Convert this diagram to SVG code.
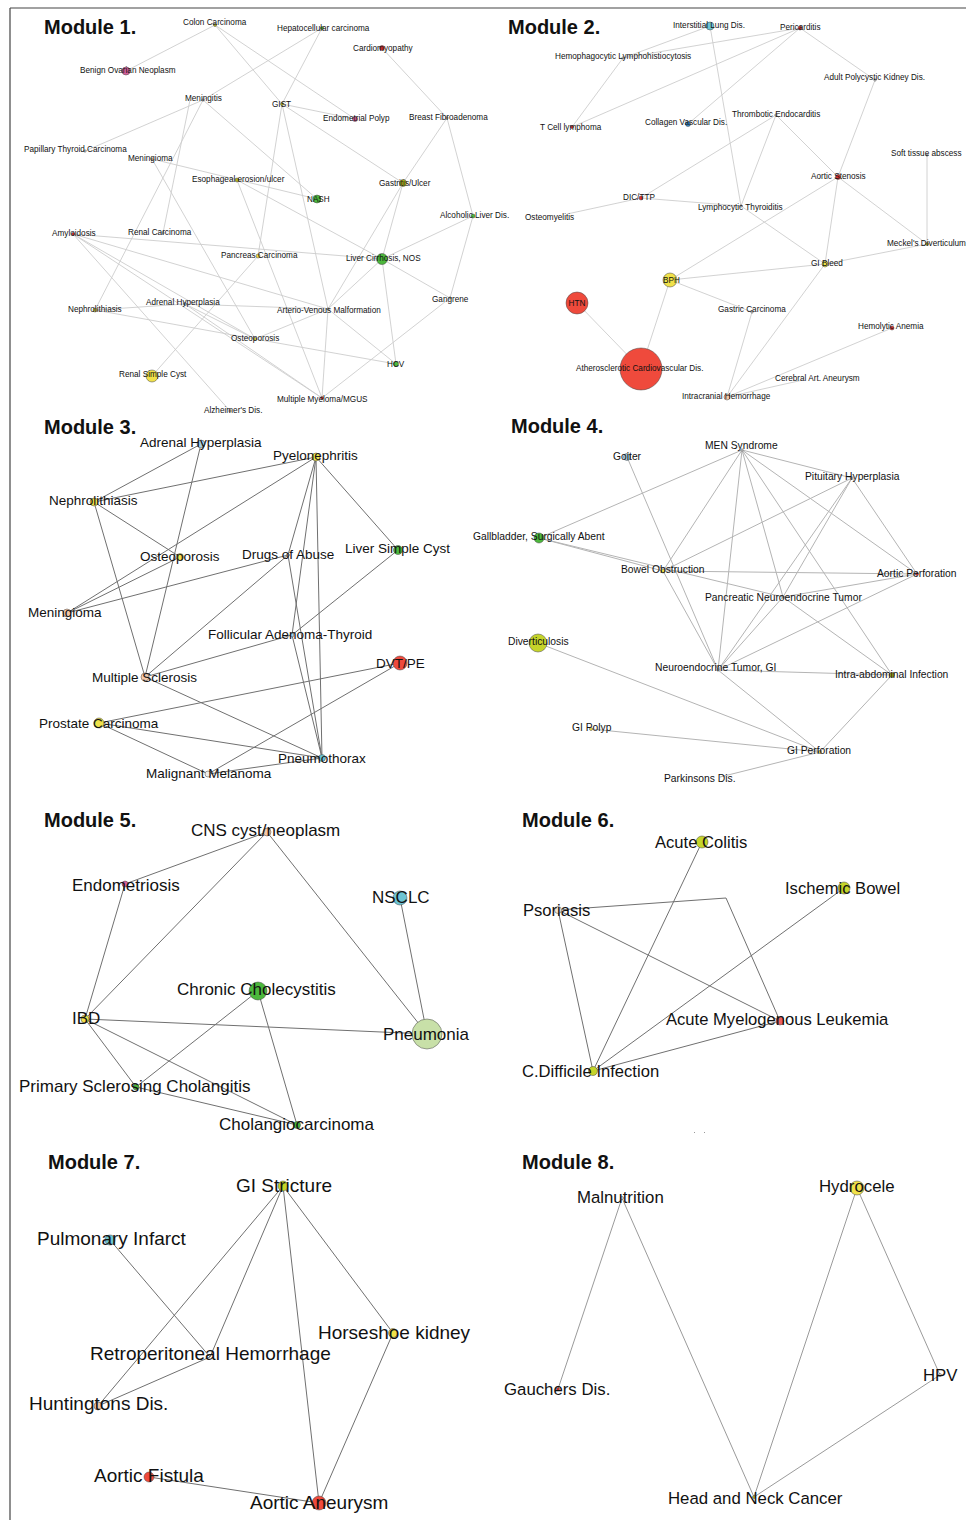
<svg xmlns="http://www.w3.org/2000/svg" width="966" height="1520" viewBox="0 0 966 1520">
<style>
text{font-family:"Liberation Sans",Arial,sans-serif;fill:#111}
.ti{font-size:20px;font-weight:bold}
.s8{font-size:8.2px}
.s10{font-size:10.3px}
.s13{font-size:13.5px}
.s17{font-size:17px}
.s166{font-size:16.6px}
.s19{font-size:19px}
.s168{font-size:16.8px}
circle{stroke:#444;stroke-width:0.5}
.la line,.la polyline{stroke:#cdcdcd;stroke-width:0.9;fill:none}
.lb line{stroke:#b4b4b4;stroke-width:1}
.lc line,.lc polyline{stroke:#707070;stroke-width:1;fill:none}
.ld line{stroke:#9a9a9a;stroke-width:1}
.red{fill:#ef4a3c}.dred{fill:#e03030}.yel{fill:#f0e14a}.ygr{fill:#c5d42a}.grn{fill:#4cb83c}.lgr{fill:#c8e0a8}
.cya{fill:#6cc4d4}.lbl{fill:#a8d0e8}.pnk{fill:#d7609a}.pch{fill:#f5c8a8}.olv{fill:#b5b520}.blu{fill:#3a8ac8}.gry{fill:#dddddd}.wht{fill:#eeeeee}
</style>
<g id="frame" stroke="#444" stroke-width="1.2"><line x1="10" y1="8" x2="966" y2="8"/><line x1="10" y1="8" x2="10" y2="1520"/></g>
<g id="titles">
<text class="ti" x="44" y="34">Module 1.</text>
<text class="ti" x="508" y="34">Module 2.</text>
<text class="ti" x="44" y="434">Module 3.</text>
<text class="ti" x="511" y="433">Module 4.</text>
<text class="ti" x="44" y="827">Module 5.</text>
<text class="ti" x="522" y="827">Module 6.</text>
<text class="ti" x="48" y="1169">Module 7.</text>
<text class="ti" x="522" y="1169">Module 8.</text>
</g>
<g id="connectors">
<g class="la">
<line x1="215" y1="25" x2="282" y2="104"/><line x1="215" y1="25" x2="355" y2="119"/><line x1="126" y1="71" x2="215" y2="25"/>
<line x1="203" y1="100" x2="322" y2="28"/><line x1="322" y1="28" x2="282" y2="104"/><line x1="382" y1="48" x2="447" y2="118"/>
<line x1="282" y1="104" x2="355" y2="119"/><line x1="282" y1="104" x2="403" y2="183"/><line x1="282" y1="104" x2="258" y2="256"/>
<line x1="282" y1="104" x2="328" y2="309"/><line x1="328" y1="309" x2="322" y2="398"/><line x1="447" y1="118" x2="403" y2="183"/><line x1="447" y1="118" x2="473" y2="216"/>
<line x1="473" y1="216" x2="382" y2="259"/><line x1="473" y1="216" x2="450" y2="298"/><line x1="403" y1="183" x2="382" y2="259"/>
<line x1="403" y1="183" x2="328" y2="309"/><line x1="382" y1="259" x2="396" y2="364"/><line x1="382" y1="259" x2="450" y2="298"/>
<line x1="382" y1="259" x2="328" y2="309"/><line x1="237" y1="180" x2="382" y2="259"/><line x1="152" y1="159" x2="317" y2="199"/>
<line x1="203" y1="100" x2="317" y2="199"/><line x1="203" y1="100" x2="85" y2="151"/><line x1="190" y1="100" x2="163" y2="233"/>
<line x1="203" y1="100" x2="95" y2="310"/><line x1="450" y1="298" x2="322" y2="398"/><line x1="328" y1="309" x2="396" y2="364"/>
<line x1="255" y1="339" x2="328" y2="309"/><line x1="255" y1="339" x2="396" y2="364"/><line x1="152" y1="376" x2="258" y2="256"/>
<line x1="73" y1="234" x2="230" y2="411"/><line x1="73" y1="234" x2="328" y2="309"/><line x1="73" y1="234" x2="255" y2="339"/>
<line x1="73" y1="234" x2="382" y2="259"/>
<line x1="73" y1="234" x2="322" y2="398"/><line x1="152" y1="159" x2="255" y2="339"/><line x1="237" y1="180" x2="322" y2="398"/>
<line x1="95" y1="310" x2="185" y2="304"/><line x1="95" y1="310" x2="255" y2="339"/><line x1="185" y1="304" x2="328" y2="309"/>
<line x1="185" y1="304" x2="322" y2="398"/><line x1="185" y1="304" x2="255" y2="339"/>
<line x1="623" y1="58" x2="710" y2="26"/><line x1="623" y1="58" x2="800" y2="28"/><line x1="572" y1="127" x2="623" y2="58"/>
<line x1="572" y1="127" x2="800" y2="28"/><line x1="688" y1="124" x2="800" y2="28"/><line x1="710" y1="26" x2="741" y2="206"/>
<line x1="800" y1="28" x2="875" y2="80"/><line x1="875" y1="80" x2="838" y2="177"/><line x1="776" y1="115" x2="741" y2="206"/>
<line x1="776" y1="115" x2="838" y2="177"/><line x1="776" y1="115" x2="641" y2="198"/><line x1="641" y1="198" x2="567" y2="214"/>
<line x1="641" y1="198" x2="741" y2="206"/><line x1="741" y1="206" x2="825" y2="264"/><line x1="838" y1="177" x2="670" y2="280"/>
<line x1="838" y1="177" x2="825" y2="264"/><line x1="838" y1="177" x2="927" y2="244"/><line x1="927" y1="155" x2="927" y2="244"/>
<line x1="825" y1="264" x2="927" y2="244"/><line x1="670" y1="280" x2="825" y2="264"/><line x1="670" y1="280" x2="752" y2="312"/>
<line x1="670" y1="280" x2="641" y2="369"/><line x1="577" y1="303" x2="641" y2="369"/><line x1="752" y1="312" x2="727" y2="397"/>
<line x1="825" y1="264" x2="727" y2="397"/><line x1="892" y1="328" x2="727" y2="397"/><line x1="803" y1="380" x2="727" y2="397"/>
</g>
<g class="lb">
<line x1="742" y1="450" x2="539" y2="538"/><line x1="742" y1="450" x2="663" y2="571"/><line x1="742" y1="450" x2="718" y2="670"/>
<line x1="742" y1="450" x2="783" y2="597"/><line x1="742" y1="450" x2="852" y2="478"/><line x1="742" y1="450" x2="917" y2="574"/>
<line x1="742" y1="450" x2="892" y2="675"/><line x1="627" y1="457" x2="718" y2="670"/><line x1="852" y1="478" x2="663" y2="571"/>
<line x1="852" y1="478" x2="718" y2="670"/><line x1="852" y1="478" x2="783" y2="597"/><line x1="852" y1="478" x2="917" y2="574"/>
<line x1="539" y1="538" x2="663" y2="571"/><line x1="539" y1="538" x2="783" y2="597"/><line x1="663" y1="571" x2="917" y2="574"/>
<line x1="663" y1="571" x2="718" y2="670"/><line x1="783" y1="597" x2="917" y2="574"/><line x1="783" y1="597" x2="892" y2="675"/>
<line x1="783" y1="597" x2="718" y2="670"/><line x1="917" y1="574" x2="718" y2="670"/><line x1="718" y1="670" x2="892" y2="675"/>
<line x1="718" y1="670" x2="820" y2="752"/><line x1="892" y1="675" x2="820" y2="752"/><line x1="538" y1="643" x2="820" y2="752"/>
<line x1="591" y1="729" x2="820" y2="752"/><line x1="720" y1="777" x2="820" y2="752"/>
</g>
<g class="lc">
<line x1="201" y1="444" x2="94" y2="502"/><line x1="201" y1="444" x2="145" y2="677"/><line x1="316" y1="457" x2="94" y2="502"/>
<line x1="316" y1="457" x2="67" y2="613"/><line x1="316" y1="457" x2="288" y2="555"/><line x1="316" y1="457" x2="292" y2="635"/>
<line x1="316" y1="457" x2="322" y2="758"/><line x1="316" y1="457" x2="398" y2="550"/><line x1="94" y1="502" x2="180" y2="557"/>
<line x1="94" y1="502" x2="145" y2="677"/><line x1="180" y1="557" x2="67" y2="613"/><line x1="288" y1="555" x2="67" y2="613"/>
<line x1="288" y1="555" x2="145" y2="677"/><line x1="288" y1="555" x2="322" y2="758"/><line x1="398" y1="550" x2="292" y2="635"/>
<line x1="292" y1="635" x2="145" y2="677"/><line x1="292" y1="635" x2="322" y2="758"/><line x1="145" y1="677" x2="322" y2="758"/>
<line x1="400" y1="663" x2="99" y2="723"/><line x1="400" y1="663" x2="208" y2="774"/><line x1="99" y1="723" x2="322" y2="758"/>
<line x1="99" y1="723" x2="208" y2="774"/><line x1="208" y1="774" x2="322" y2="758"/>
<line x1="267" y1="832" x2="125" y2="884"/><line x1="267" y1="832" x2="85" y2="1019"/><line x1="267" y1="832" x2="427" y2="1034"/>
<line x1="400" y1="898" x2="427" y2="1034"/><line x1="125" y1="884" x2="85" y2="1019"/><line x1="85" y1="1019" x2="427" y2="1034"/>
<line x1="85" y1="1019" x2="136" y2="1087"/><line x1="85" y1="1019" x2="297" y2="1125"/><line x1="258" y1="991" x2="136" y2="1087"/>
<line x1="258" y1="991" x2="297" y2="1125"/><line x1="136" y1="1087" x2="297" y2="1125"/>
<polyline points="558,910 726,898 780,1021"/><line x1="558" y1="910" x2="780" y2="1021"/><line x1="558" y1="910" x2="593" y2="1071"/>
<line x1="702" y1="842" x2="593" y2="1071"/><line x1="844" y1="888" x2="593" y2="1071" stroke="#a0a0a0"/><line x1="780" y1="1021" x2="593" y2="1071"/>
<line x1="283" y1="1186" x2="98" y2="1406"/><line x1="283" y1="1186" x2="210" y2="1357"/><line x1="283" y1="1186" x2="319" y2="1503"/>
<line x1="283" y1="1186" x2="393" y2="1333"/><line x1="110" y1="1240" x2="210" y2="1357"/><line x1="210" y1="1357" x2="98" y2="1406"/>
<line x1="393" y1="1333" x2="319" y2="1503"/><line x1="149" y1="1477" x2="319" y2="1503"/>
</g>
<g class="ld">
<line x1="622" y1="1198" x2="558" y2="1389"/><line x1="622" y1="1198" x2="754" y2="1497"/><line x1="857" y1="1188" x2="754" y2="1497"/>
<line x1="857" y1="1188" x2="940" y2="1375"/><line x1="940" y1="1375" x2="754" y2="1497" stroke="#707070"/>
</g>
</g>
<g id="module1">
<g id="m1-colon"><circle class="olv" cx="215" cy="25" r="1.5"/><text class="s8" x="183" y="25">Colon Carcinoma</text></g>
<g id="m1-hepato"><circle class="grn" cx="322" cy="28" r="1.5"/><text class="s8" x="277" y="31">Hepatocellular carcinoma</text></g>
<g id="m1-cardio"><circle class="dred" cx="382" cy="48" r="2.5"/><text class="s8" x="353" y="51">Cardiomyopathy</text></g>
<g id="m1-benign"><circle class="pnk" cx="126" cy="71" r="4"/><text class="s8" x="80" y="73">Benign Ovarian Neoplasm</text></g>
<g id="m1-meningitis"><circle class="gry" cx="203" cy="100" r="1.2"/><text class="s8" x="185" y="101">Meningitis</text></g>
<g id="m1-gist"><circle class="olv" cx="282" cy="104" r="1.5"/><text class="s8" x="272" y="107">GIST</text></g>
<g id="m1-endopolyp"><circle class="pnk" cx="355" cy="119" r="2.5"/><text class="s8" x="323" y="121">Endometrial Polyp</text></g>
<g id="m1-breast"><circle class="pch" cx="447" cy="118" r="1.2"/><text class="s8" x="409" y="120">Breast Fibroadenoma</text></g>
<g id="m1-papillary"><circle class="gry" cx="85" cy="151" r="1.2"/><text class="s8" x="24" y="152">Papillary Thyroid Carcinoma</text></g>
<g id="m1-meningioma"><circle class="pch" cx="152" cy="159" r="1.2"/><text class="s8" x="128" y="161">Meningioma</text></g>
<g id="m1-esoph"><circle class="olv" cx="237" cy="180" r="2"/><text class="s8" x="192" y="182">Esophageal erosion/ulcer</text></g>
<g id="m1-nash"><circle class="grn" cx="317" cy="199" r="4"/><text class="s8" x="307" y="202">NASH</text></g>
<g id="m1-gastritis"><circle class="olv" cx="403" cy="183" r="3.5"/><text class="s8" x="379" y="186">Gastritis/Ulcer</text></g>
<g id="m1-alcoholic"><circle class="grn" cx="473" cy="216" r="2"/><text class="s8" x="440" y="218">Alcoholic Liver Dis.</text></g>
<g id="m1-amyloidosis"><circle class="dred" cx="73" cy="234" r="1.5"/><text class="s8" x="52" y="236">Amyloidosis</text></g>
<g id="m1-renalcarc"><circle class="gry" cx="163" cy="233" r="1.2"/><text class="s8" x="128" y="235">Renal Carcinoma</text></g>
<g id="m1-pancreas"><circle class="yel" cx="258" cy="256" r="2"/><text class="s8" x="221" y="258">Pancreas Carcinoma</text></g>
<g id="m1-cirrhosis"><circle class="grn" cx="382" cy="259" r="5.5"/><text class="s8" x="346" y="261">Liver Cirrhosis, NOS</text></g>
<g id="m1-gangrene"><circle class="gry" cx="450" cy="298" r="1.2"/><text class="s8" x="432" y="302">Gangrene</text></g>
<g id="m1-adrenal"><circle class="lbl" cx="185" cy="304" r="1.5"/><text class="s8" x="146" y="305">Adrenal Hyperplasia</text></g>
<g id="m1-nephro"><circle class="yel" cx="95" cy="310" r="2"/><text class="s8" x="68" y="312">Nephrolithiasis</text></g>
<g id="m1-avm"><circle class="gry" cx="328" cy="309" r="1.2"/><text class="s8" x="277" y="313">Arterio-Venous Malformation</text></g>
<g id="m1-osteo"><circle class="yel" cx="255" cy="339" r="1.5"/><text class="s8" x="231" y="341">Osteoporosis</text></g>
<g id="m1-hcv"><circle class="grn" cx="396" cy="364" r="2.5"/><text class="s8" x="387" y="367">HCV</text></g>
<g id="m1-renalcyst"><circle class="yel" cx="152" cy="376" r="6"/><text class="s8" x="119" y="377">Renal Simple Cyst</text></g>
<g id="m1-myeloma"><circle class="dred" cx="322" cy="398" r="1.5"/><text class="s8" x="277" y="402">Multiple Myeloma/MGUS</text></g>
<g id="m1-alz"><circle class="pch" cx="230" cy="411" r="1.2"/><text class="s8" x="204" y="413">Alzheimer's Dis.</text></g>
</g>
<g id="module2">
<g id="m2-ild"><circle class="cya" cx="710" cy="26" r="4"/><text class="s8" x="673" y="28">Interstitial Lung Dis.</text></g>
<g id="m2-pericarditis"><circle class="dred" cx="800" cy="28" r="2"/><text class="s8" x="780" y="30">Pericarditis</text></g>
<g id="m2-hlh"><circle class="gry" cx="623" cy="58" r="1.2"/><text class="s8" x="555" y="59">Hemophagocytic Lymphohistiocytosis</text></g>
<g id="m2-apkd"><circle class="gry" cx="875" cy="80" r="1.2"/><text class="s8" x="824" y="80">Adult Polycystic Kidney Dis.</text></g>
<g id="m2-tcell"><circle class="dred" cx="572" cy="127" r="1.5"/><text class="s8" x="540" y="130">T Cell lymphoma</text></g>
<g id="m2-collagen"><circle class="blu" cx="688" cy="124" r="2.5"/><text class="s8" x="645" y="125">Collagen Vascular Dis.</text></g>
<g id="m2-thrombotic"><circle class="gry" cx="776" cy="115" r="1.2"/><text class="s8" x="732" y="117">Thrombotic Endocarditis</text></g>
<g id="m2-softtissue"><circle class="gry" cx="927" cy="155" r="1.2"/><text class="s8" x="891" y="156">Soft tissue abscess</text></g>
<g id="m2-aorticsten"><circle class="dred" cx="838" cy="177" r="2.5"/><text class="s8" x="811" y="179">Aortic Stenosis</text></g>
<g id="m2-dic"><circle class="dred" cx="641" cy="198" r="2"/><text class="s8" x="623" y="200">DIC/TTP</text></g>
<g id="m2-osteomyelitis"><text class="s8" x="525" y="220">Osteomyelitis</text></g>
<g id="m2-lymphocytic"><circle class="gry" cx="741" cy="206" r="1.2"/><text class="s8" x="698" y="210">Lymphocytic Thyroiditis</text></g>
<g id="m2-meckel"><circle class="olv" cx="927" cy="244" r="1.5"/><text class="s8" x="887" y="246">Meckel's Diverticulum</text></g>
<g id="m2-gibleed"><circle class="yel" cx="825" cy="264" r="3"/><text class="s8" x="811" y="266">GI Bleed</text></g>
<g id="m2-bph"><circle class="yel" cx="670" cy="280" r="7"/><text class="s8" x="663" y="283">BPH</text></g>
<g id="m2-htn"><circle class="red" cx="577" cy="303" r="11"/><text class="s8" x="577" y="306" text-anchor="middle">HTN</text></g>
<g id="m2-gastric"><circle class="gry" cx="752" cy="312" r="1.2"/><text class="s8" x="718" y="312">Gastric Carcinoma</text></g>
<g id="m2-hemolytic"><circle class="dred" cx="892" cy="328" r="2"/><text class="s8" x="858" y="329">Hemolytic Anemia</text></g>
<g id="m2-ascvd"><circle class="red" cx="641" cy="369" r="21"/><text class="s8" x="576" y="371">Atherosclerotic Cardiovascular Dis.</text></g>
<g id="m2-cerebral"><text class="s8" x="775" y="381">Cerebral Art. Aneurysm</text></g>
<g id="m2-intracranial"><circle class="pch" cx="727" cy="397" r="3"/><text class="s8" x="682" y="399">Intracranial Hemorrhage</text></g>
</g>
<g id="module3">
<g id="m3-adrenal"><circle class="lbl" cx="201" cy="444" r="4"/><text class="s13" x="140" y="447">Adrenal Hyperplasia</text></g>
<g id="m3-pyelo"><circle class="yel" cx="316" cy="457" r="4"/><text class="s13" x="273" y="460">Pyelonephritis</text></g>
<g id="m3-nephro"><circle class="yel" cx="94" cy="502" r="4"/><text class="s13" x="49" y="505">Nephrolithiasis</text></g>
<g id="m3-osteo"><circle class="yel" cx="180" cy="557" r="3.5"/><text class="s13" x="140" y="561">Osteoporosis</text></g>
<g id="m3-drugs"><circle class="gry" cx="288" cy="555" r="1.5"/><text class="s13" x="242" y="559">Drugs of Abuse</text></g>
<g id="m3-liversimple"><circle class="grn" cx="398" cy="550" r="4.5"/><text class="s13" x="345" y="553">Liver Simple Cyst</text></g>
<g id="m3-meningioma"><circle class="pch" cx="67" cy="613" r="4"/><text class="s13" x="28" y="617">Meningioma</text></g>
<g id="m3-follicular"><circle class="lbl" cx="292" cy="635" r="2"/><text class="s13" x="208" y="639">Follicular Adenoma-Thyroid</text></g>
<g id="m3-dvt"><circle class="red" cx="400" cy="663" r="7"/><text class="s13" x="376" y="668">DVT/PE</text></g>
<g id="m3-ms"><circle class="pch" cx="145" cy="677" r="4"/><text class="s13" x="92" y="682">Multiple Sclerosis</text></g>
<g id="m3-prostate"><circle class="yel" cx="99" cy="723" r="5"/><text class="s13" x="39" y="728">Prostate Carcinoma</text></g>
<g id="m3-pneumothorax"><circle class="cya" cx="322" cy="758" r="3.5"/><text class="s13" x="278" y="763">Pneumothorax</text></g>
<g id="m3-melanoma"><circle class="wht" cx="208" cy="774" r="3"/><text class="s13" x="146" y="778">Malignant Melanoma</text></g>
</g>
<g id="module4">
<g id="m4-men"><circle class="gry" cx="742" cy="450" r="1.2"/><text class="s10" x="705" y="449">MEN Syndrome</text></g>
<g id="m4-goiter"><circle class="lbl" cx="627" cy="457" r="3.5"/><text class="s10" x="613" y="460">Goiter</text></g>
<g id="m4-pituitary"><circle class="gry" cx="852" cy="478" r="1.2"/><text class="s10" x="805" y="480">Pituitary Hyperplasia</text></g>
<g id="m4-gallbladder"><circle class="grn" cx="539" cy="538" r="5"/><text class="s10" x="473" y="540">Gallbladder, Surgically Abent</text></g>
<g id="m4-bowel"><circle class="yel" cx="663" cy="571" r="2"/><text class="s10" x="621" y="573">Bowel Obstruction</text></g>
<g id="m4-aorticperf"><circle class="dred" cx="917" cy="574" r="1.5"/><text class="s10" x="877" y="577">Aortic Perforation</text></g>
<g id="m4-pnet"><circle class="gry" cx="783" cy="597" r="1.2"/><text class="s10" x="705" y="601">Pancreatic Neuroendocrine Tumor</text></g>
<g id="m4-diverticulosis"><circle class="ygr" cx="538" cy="643" r="9"/><text class="s10" x="508" y="645">Diverticulosis</text></g>
<g id="m4-negi"><circle class="gry" cx="718" cy="670" r="1.2"/><text class="s10" x="655" y="671">Neuroendocrine Tumor, GI</text></g>
<g id="m4-intraabd"><circle class="olv" cx="892" cy="675" r="2.5"/><text class="s10" x="835" y="678">Intra-abdominal Infection</text></g>
<g id="m4-gipolyp"><circle class="yel" cx="591" cy="729" r="1.5"/><text class="s10" x="572" y="731">GI Polyp</text></g>
<g id="m4-giperf"><circle class="yel" cx="820" cy="752" r="1.5"/><text class="s10" x="787" y="754">GI Perforation</text></g>
<g id="m4-parkinsons"><text class="s10" x="664" y="782">Parkinsons Dis.</text></g>
</g>
<g id="module5">
<g id="m5-cns"><circle class="pch" cx="267" cy="832" r="4"/><text class="s17" x="191" y="836">CNS cyst/neoplasm</text></g>
<g id="m5-endometriosis"><circle class="pnk" cx="125" cy="884" r="3"/><text class="s17" x="72" y="891">Endometriosis</text></g>
<g id="m5-nsclc"><circle class="cya" cx="400" cy="898" r="7"/><text class="s17" x="372" y="903">NSCLC</text></g>
<g id="m5-chronchol"><circle class="grn" cx="258" cy="991" r="9"/><text class="s17" x="177" y="995">Chronic Cholecystitis</text></g>
<g id="m5-ibd"><circle class="yel" cx="85" cy="1019" r="4"/><text class="s17" x="72" y="1024">IBD</text></g>
<g id="m5-pneumonia"><circle class="lgr" cx="427" cy="1034" r="15"/><text class="s17" x="383" y="1040">Pneumonia</text></g>
<g id="m5-psc"><circle class="grn" cx="136" cy="1087" r="3"/><text class="s17" x="19" y="1092">Primary Sclerosing Cholangitis</text></g>
<g id="m5-cholangio"><circle class="grn" cx="297" cy="1125" r="3.5"/><text class="s17" x="219" y="1130">Cholangiocarcinoma</text></g>
</g>
<g id="module6">
<g id="m6-acutecolitis"><circle class="ygr" cx="702" cy="842" r="6"/><text class="s166" x="655" y="848">Acute Colitis</text></g>
<g id="m6-ischemic"><circle class="ygr" cx="844" cy="888" r="6"/><text class="s166" x="785" y="894">Ischemic Bowel</text></g>
<g id="m6-psoriasis"><circle fill="#f5e8d8" cx="558" cy="910" r="3.5"/><text class="s166" x="523" y="916">Psoriasis</text></g>
<g id="m6-aml"><circle fill="#ef6060" cx="780" cy="1021" r="4"/><text class="s166" x="666" y="1025">Acute Myelogenous Leukemia</text></g>
<g id="m6-cdiff"><circle class="ygr" cx="593" cy="1071" r="4.5"/><text class="s166" x="522" y="1077">C.Difficile Infection</text></g>
<g id="m6-specks" fill="#999"><rect x="694" y="1132" width="1" height="1"/><rect x="704" y="1132" width="1" height="1"/></g>
</g>
<g id="module7">
<g id="m7-gistricture"><circle class="ygr" cx="283" cy="1186" r="5"/><text class="s19" x="236" y="1192">GI Stricture</text></g>
<g id="m7-pulminfarct"><circle class="cya" cx="110" cy="1240" r="5"/><text class="s19" x="37" y="1245">Pulmonary Infarct</text></g>
<g id="m7-horseshoe"><circle class="yel" cx="393" cy="1333" r="4.5"/><text class="s19" x="318" y="1339">Horseshoe kidney</text></g>
<g id="m7-retro"><text class="s19" x="90" y="1360">Retroperitoneal Hemorrhage</text></g>
<g id="m7-huntingtons"><circle class="pch" cx="98" cy="1406" r="4"/><text class="s19" x="29" y="1410">Huntingtons Dis.</text></g>
<g id="m7-aorticfistula"><circle class="red" cx="149" cy="1477" r="5"/><text class="s19" x="94" y="1482">Aortic Fistula</text></g>
<g id="m7-aorticaneurysm"><circle class="red" cx="319" cy="1503" r="7"/><text class="s19" x="250" y="1509">Aortic Aneurysm</text></g>
</g>
<g id="module8">
<g id="m8-malnutrition"><circle class="gry" cx="622" cy="1198" r="1.5"/><text class="s168" x="577" y="1203">Malnutrition</text></g>
<g id="m8-hydrocele"><circle class="yel" cx="857" cy="1188" r="7"/><text class="s168" x="819" y="1192">Hydrocele</text></g>
<g id="m8-gauchers"><circle class="dred" cx="558" cy="1389" r="1.5"/><text class="s168" x="504" y="1395">Gauchers Dis.</text></g>
<g id="m8-hpv"><circle class="gry" cx="940" cy="1375" r="1.5"/><text class="s168" x="923" y="1381">HPV</text></g>
<g id="m8-headneck"><circle class="olv" cx="754" cy="1497" r="1.5"/><text class="s168" x="668" y="1504">Head and Neck Cancer</text></g>
</g>
</svg>
